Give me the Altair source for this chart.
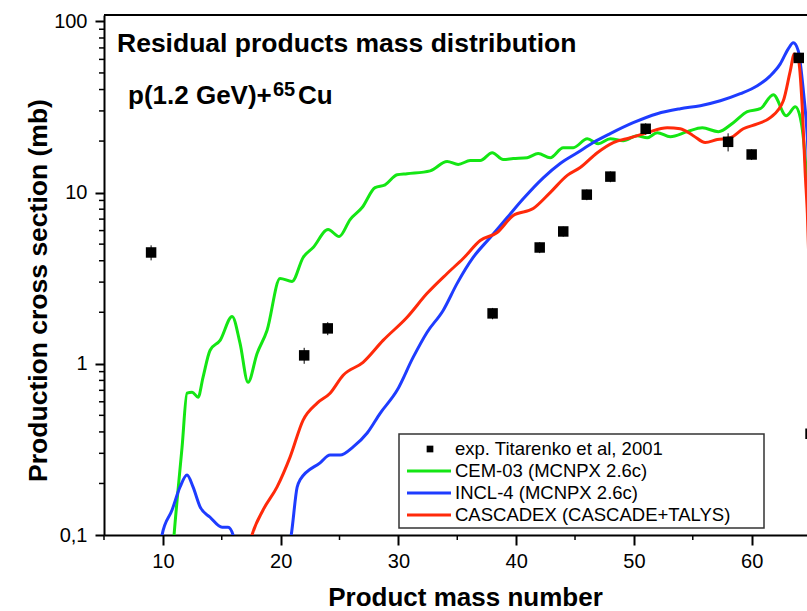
import altair as alt
import pandas as pd

# ---- experimental data: Titarenko et al, 2001 ----
exp_A = [9, 22, 24, 38, 42, 44, 46, 48, 51, 58, 60, 64, 65]
exp_sigma = [4.47, 1.12, 1.61, 1.97, 4.78, 5.93, 9.73, 12.4, 23.6, 19.8, 16.7, 61.2, 0.39]
exp_err = [0.45, 0.12, 0.14, 0.15, 0.35, 0.4, 0.7, 0.9, 1.8, 2.4, 1.2, 4.0, 0.03]

# ---- CEM-03 (MCNPX 2.6c) ----
cem_A = [10.7, 10.95, 11.63, 12.05, 12.48, 12.99, 13.41, 14.01, 14.86, 15.88, 16.55,
         17.23, 18.0, 18.85, 19.95, 20.97, 21.91, 22.76, 24.03, 24.97, 25.9, 26.92,
         28.02, 28.87, 29.89, 30.74, 32.7, 34.14, 35.08, 36.1, 36.95, 37.97, 38.9,
         39.75, 40.94, 41.87, 42.89, 44.0, 44.85, 46.04, 46.97, 47.99, 49.1, 50.28,
         51.13, 51.98, 53.09, 54.53, 55.81, 57.17, 58.44, 59.63, 60.73, 61.84, 62.94,
         63.71, 64.13, 64.47, 64.8, 65.0]
cem_sigma = [0.06, 0.1, 0.326, 0.673, 0.683, 0.638, 0.834, 1.20, 1.37, 1.89, 1.32,
             0.78, 1.15, 1.57, 3.15, 3.03, 4.18, 4.78, 6.09, 5.54, 6.96, 8.18,
             10.7, 11.1, 12.7, 12.9, 13.4, 15.2, 14.6, 15.4, 15.4, 17.1, 15.6,
             15.8, 16.0, 16.9, 16.0, 18.3, 18.3, 20.6, 19.3, 20.6, 20.1, 21.5,
             20.9, 22.4, 21.2, 22.7, 23.9, 22.7, 25.6, 29.7, 30.9, 37.3, 28.1,
             31.7, 27.4, 18.3, 8.0, 3.0]

# ---- INCL-4 (MCNPX 2.6c) ----
incl_A = [9.7, 9.93, 10.78, 11.46, 12.05, 12.56, 13.16, 14.01, 15.03, 15.54, 15.96,
          16.4, 20.4, 20.9, 21.4, 21.65, 23.35, 24.2, 25.05, 26.16, 27.35, 28.45,
          29.89, 31.25, 32.44, 33.8, 34.99, 36.35, 37.8, 39.24, 40.6, 42.3, 43.74,
          45.19, 46.55, 47.99, 49.94, 51.98, 53.94, 55.64, 57.34, 59.04, 60.48,
          61.58, 62.43, 63.11, 63.54, 63.96, 64.39, 64.73, 65.0]
incl_sigma = [0.07, 0.1, 0.140, 0.191, 0.224, 0.191, 0.146, 0.127, 0.111, 0.111, 0.1,
              0.07, 0.07, 0.1, 0.19, 0.21, 0.264, 0.293, 0.293, 0.327, 0.394, 0.514,
              0.700, 1.09, 1.53, 2.05, 2.95, 4.18, 5.47, 7.15, 9.2, 12.2, 14.8,
              17.1, 19.6, 22.1, 25.6, 28.9, 30.9, 32.2, 34.4, 37.8, 42.1,
              48.1, 56.5, 69.2, 75.0, 67.3, 39.4, 20.9, 8.0]

# ---- CASCADEX (CASCADE+TALYS) ----
ced_A = [17.2, 17.57, 18.51, 19.70, 20.80, 21.91, 23.10, 24.2, 25.31, 27.0, 28.7,
         30.74, 32.44, 34.14, 35.5, 36.95, 38.39, 39.75, 41.45, 42.89, 44.34, 45.44,
         46.89, 48.25, 49.69, 51.13, 52.83, 53.94, 55.04, 56.06, 57.08, 58.19, 59.29,
         60.48, 61.58, 62.69, 63.28, 63.62, 63.96, 64.3, 64.55, 64.73, 65.0]
ced_sigma = [0.08, 0.1, 0.140, 0.191, 0.285, 0.469, 0.589, 0.673, 0.857, 1.02, 1.37,
             1.87, 2.58, 3.37, 4.12, 5.25, 5.85, 7.35, 8.07, 10.0, 12.6, 14.0,
             17.1, 19.6, 20.9, 22.4, 23.9, 23.6, 21.5, 19.6, 20.4, 20.9, 23.6,
             25.2, 27.4, 34.4, 51.4, 64.6, 60.4, 31.3, 12.9, 7.55, 2.0]

# axis ticks
x_major = [10, 20, 30, 40, 50, 60]
x_minor = [5, 15, 25, 35, 45, 55, 65]
y_major = [0.1, 1, 10, 100]
y_minor = [m * d for d in (0.1, 1, 10) for m in range(2, 10)]

legend_labels = ["exp. Titarenko et al, 2001", "CEM-03 (MCNPX 2.6c)",
                 "INCL-4 (MCNPX 2.6c)", "CASCADEX (CASCADE+TALYS)"]
line_colors = ["#14e614", "#1e3cff", "#ff2a0a"]

FONT = "Liberation Sans"
W, H = 703, 520

x_scale = alt.Scale(domain=[5, 64.7], nice=False, zero=False)
y_scale = alt.Scale(type="log", domain=[0.1, 109], nice=False)

# identical axis definitions are shared by every layer so they merge into one
x_axis = alt.Axis(values=x_major, format="d", tickSize=10, tickWidth=2,
                  tickColor="black", domainColor="black", domainWidth=2,
                  labelFontSize=20, labelFont=FONT, labelColor="black",
                  labelPadding=6, labelFlush=False, grid=False,
                  title="Product mass number", titleFont=FONT, titleFontSize=26,
                  titleFontWeight="bold", titleColor="black", titleX=361,
                  titleY=70, titleAlign="center", titleBaseline="alphabetic")
y_axis = alt.Axis(values=y_major,
                  labelExpr="replace(format(datum.value, '~g'), '.', ',')",
                  tickSize=9, tickWidth=2, tickColor="black", domainColor="black",
                  domainWidth=2, labelFontSize=20, labelFont=FONT,
                  labelColor="black", labelPadding=8, labelFlush=False,
                  labelOverlap=False, grid=False,
                  title="Production cross section (mb)", titleFont=FONT,
                  titleFontSize=26.5, titleFontWeight="bold", titleColor="black",
                  titleAngle=-90, titleX=-58, titleY=275, titleAlign="center",
                  titleBaseline="alphabetic")


def curve(a_vals, s_vals, color):
    df = pd.DataFrame({"A": a_vals, "sigma": s_vals})
    return alt.Chart(df).mark_line(
        strokeWidth=3, interpolate="monotone", clip=True, color=color
    ).encode(
        x=alt.X("A:Q", scale=x_scale, axis=x_axis),
        y=alt.Y("sigma:Q", scale=y_scale, axis=y_axis),
    )


green = curve(cem_A, cem_sigma, line_colors[0])
blue = curve(incl_A, incl_sigma, line_colors[1])
red = curve(ced_A, ced_sigma, line_colors[2])

exp_df = pd.DataFrame({"A": exp_A, "sigma": exp_sigma, "err": exp_err})
exp_df["lo"] = exp_df["sigma"] - exp_df["err"]
exp_df["hi"] = exp_df["sigma"] + exp_df["err"]

errbars = alt.Chart(exp_df).mark_rule(color="black", strokeWidth=1, clip=True).encode(
    x=alt.X("A:Q", scale=x_scale, axis=x_axis),
    y=alt.Y("lo:Q", scale=y_scale, axis=y_axis),
    y2="hi:Q",
)
points = alt.Chart(exp_df).mark_square(size=110, color="black", opacity=1,
                                       clip=True).encode(
    x=alt.X("A:Q", scale=x_scale, axis=x_axis),
    y=alt.Y("sigma:Q", scale=y_scale, axis=y_axis),
)

# minor ticks and the top edge of the frame
y_minor_ticks = alt.Chart(pd.DataFrame({"v": y_minor})).mark_rule(
    color="black", strokeWidth=1.5).encode(
    y=alt.Y("v:Q", scale=y_scale, axis=y_axis),
    x=alt.value(-5), x2=alt.value(0),
)
x_minor_ticks = alt.Chart(pd.DataFrame({"a": x_minor})).mark_rule(
    color="black", strokeWidth=1.5, clip=False).encode(
    x=alt.X("a:Q", scale=x_scale, axis=x_axis),
    y=alt.value(H), y2=alt.value(H + 5),
)
top_edge = alt.Chart(pd.DataFrame({"k": [0]})).mark_rule(
    color="black", strokeWidth=2).encode(
    x=alt.value(0), x2=alt.value(W), y=alt.value(0),
)


# in-plot titles
def label(text, x, y, size, weight="bold"):
    return alt.Chart(pd.DataFrame({"t": [text]})).mark_text(
        align="left", baseline="alphabetic", font=FONT, fontSize=size,
        fontWeight=weight, color="black").encode(
        x=alt.value(x), y=alt.value(y), text="t:N")


heading = label("Residual products mass distribution", 13, 37, 26.5)
reaction = label("p(1.2 GeV)+", 24, 89, 26)
mass_sup = label("65", 169, 81, 20)
element = label("Cu", 194, 89, 26)

# legend
leg_rows = [419 + 15 + 22 * i for i in range(4)]
legend_box = alt.Chart(pd.DataFrame({"k": [0]})).mark_rect(
    fill="white", stroke="#333333", strokeWidth=1.5).encode(
    x=alt.value(295), x2=alt.value(660), y=alt.value(419), y2=alt.value(513))
legend_square = alt.Chart(pd.DataFrame({"k": [0]})).mark_square(
    size=45, color="black", opacity=1).encode(
    x=alt.value(326), y=alt.value(leg_rows[0]))
legend_parts = [legend_box, legend_square]
for i, col in enumerate(line_colors):
    legend_parts.append(
        alt.Chart(pd.DataFrame({"k": [0]})).mark_rule(
            color=col, strokeWidth=3).encode(
            x=alt.value(303), x2=alt.value(347), y=alt.value(leg_rows[i + 1])))
for i, lab in enumerate(legend_labels):
    legend_parts.append(
        alt.Chart(pd.DataFrame({"t": [lab]})).mark_text(
            align="left", baseline="middle", font=FONT, fontSize=18.5,
            color="black").encode(
            x=alt.value(351), y=alt.value(leg_rows[i]), text="t:N"))

chart = alt.layer(
    green, blue, red, errbars, points,
    y_minor_ticks, x_minor_ticks, top_edge,
    heading, reaction, mass_sup, element,
    *legend_parts,
).properties(
    width=W, height=H,
    padding={"left": 104, "top": 15, "right": 0, "bottom": 76},
    autosize=alt.AutoSizeParams(type="none"),
    background="white",
).configure_view(stroke=None)

chart.save("out.html", embed_options={"renderer": "svg", "actions": False})
